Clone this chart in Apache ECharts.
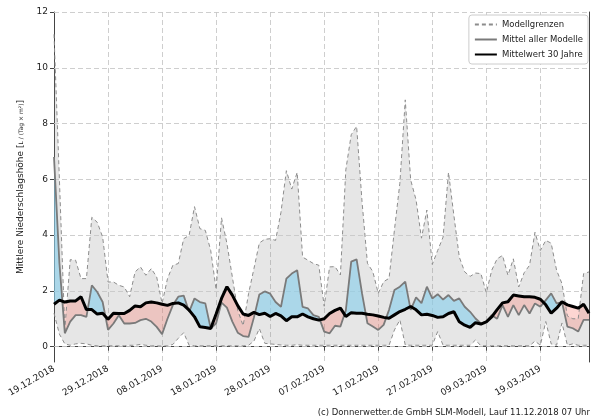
<!DOCTYPE html>
<html><head><meta charset="utf-8">
<script src="https://cdn.jsdelivr.net/npm/echarts@6/dist/echarts.min.js"></script>
<style>html,body{margin:0;padding:0;background:#fff}#c{width:600px;height:420px}</style>
</head><body><div id="c"></div>
<script>
// ---- data ----
const startDate = '19.12.2018';
const dayCount = 100;
const yTicks = [0, 2, 4, 6, 8, 10, 12];
const upperBound = [11.2,6.0,0.6,3.12,3.1,2.44,2.44,4.64,4.46,3.93,2.32,2.32,2.2,2.14,1.79,2.68,2.86,2.56,2.8,2.5,
  1.55,2.44,2.92,2.98,3.87,3.99,5.02,4.23,4.17,3.45,2.05,4.62,3.7,2.5,1.3,0.75,1.9,2.8,3.72,3.85,
  3.87,3.81,4.82,6.31,5.65,6.25,3.21,3.1,2.98,2.92,1.45,2.86,2.87,2.57,6.34,7.6,7.9,5.2,2.99,2.69,
  1.91,2.33,2.45,4.19,5.86,8.85,5.98,5.26,3.89,4.9,2.95,3.45,3.93,6.25,4.7,3.21,2.68,2.52,2.64,2.62,
  1.93,2.74,3.15,3.27,2.56,3.15,2.14,2.65,2.92,4.1,3.45,3.81,3.71,2.74,2.26,1.1,1.0,1.0,2.62,2.68];
const lowerBound = [1.2,0.45,0.1,0.05,0.1,0.12,0.1,0.05,0.03,0.03,0.03,0.03,0.03,0.03,0.05,0.05,0.08,0.05,0.03,0.03,
  0.02,0.03,0.08,0.3,0.5,0.05,0.03,0.03,0.03,0.03,0.03,0.03,0.03,0.03,0.03,0.03,0.05,0.2,0.65,0.12,
  0.1,0.08,0.06,0.05,0.05,0.07,0.05,0.05,0.05,0.05,0.05,0.05,0.05,0.05,0.05,0.05,0.05,0.05,0.05,0.05,
  0.05,0.05,0.05,0.6,0.96,0.06,0.05,0.05,0.05,0.05,0.05,0.54,0.05,0.05,0.05,0.05,0.05,0.05,0.24,0.03,
  0.03,0.03,0.03,0.03,0.03,0.03,0.03,0.03,0.03,0.2,0.05,0.9,0.1,0.05,0.85,0.05,0.1,0.05,0.05,0.05];
const modelMean = [6.8,3.0,0.48,0.9,1.13,1.13,1.07,2.2,1.96,1.6,0.6,0.83,1.13,0.83,0.83,0.85,0.95,1.0,0.9,0.71,
  0.45,1.0,1.49,1.79,1.83,1.25,1.73,1.6,1.55,0.65,0.84,1.58,1.4,0.9,0.5,0.38,0.35,1.05,1.87,1.98,
  1.9,1.6,1.43,2.44,2.62,2.74,1.43,1.37,1.13,1.07,0.54,0.48,0.75,0.72,1.3,3.05,3.13,1.91,0.84,0.72,
  0.6,0.78,1.32,2.03,2.15,2.33,1.32,1.77,1.56,2.15,1.73,1.88,1.69,1.85,1.64,1.73,1.43,1.25,1.01,0.83,
  0.9,1.13,1.0,1.49,1.07,1.49,1.13,1.49,1.19,1.55,1.43,1.67,1.91,1.55,1.6,0.72,0.66,0.54,0.96,0.96];
const mean30 = [1.52,1.67,1.6,1.64,1.64,1.79,1.33,1.33,1.17,1.2,0.98,1.2,1.19,1.19,1.3,1.46,1.43,1.57,1.6,1.57,
  1.52,1.48,1.55,1.57,1.49,1.31,1.07,0.71,0.69,0.65,1.17,1.73,2.15,1.85,1.47,1.17,1.12,1.23,1.15,1.2,
  1.08,1.19,1.1,0.93,1.07,1.07,1.17,1.07,1.0,0.95,1.0,1.19,1.3,1.38,1.08,1.22,1.2,1.2,1.16,1.14,
  1.1,1.05,1.02,1.14,1.26,1.34,1.44,1.32,1.14,1.16,1.12,1.05,1.07,1.19,1.25,0.89,0.77,0.69,0.86,0.81,
  0.89,1.07,1.33,1.57,1.61,1.85,1.82,1.79,1.79,1.77,1.7,1.5,1.2,1.38,1.61,1.5,1.44,1.38,1.52,1.2];

// ---- categories (dates) ----
function makeDates(start, count) {
  const [d, m, y] = start.split('.').map(Number);
  const out = [];
  for (let i = 0; i < count; i++) {
    const dt = new Date(Date.UTC(y, m - 1, d + i));
    const dd = String(dt.getUTCDate()).padStart(2, '0');
    const mm = String(dt.getUTCMonth() + 1).padStart(2, '0');
    out.push(dd + '.' + mm + '.' + dt.getUTCFullYear());
  }
  return out;
}
const dates = makeDates(startDate, dayCount);
const n = dates.length;

const FONT = 'DejaVu Sans';
const BAND = 'rgba(128,128,128,0.2)';
const BLUE = 'rgba(135,206,235,0.62)';
const PINK = 'rgba(250,128,114,0.32)';

function bandRender(params, api) {
  if (params.dataIndex !== 0) return;
  const pts = [];
  for (let i = 0; i < n; i++) pts.push(api.coord([i, upperBound[i]]));
  for (let i = n - 1; i >= 0; i--) pts.push(api.coord([i, lowerBound[i]]));
  return { type: 'polygon', shape: { points: pts }, style: { fill: BAND } };
}

function diffRender(params, api) {
  if (params.dataIndex !== 0) return;
  const P = (i, v) => api.coord([i, v]);
  const polys = [];
  let cur = null;
  for (let i = 0; i < n; i++) {
    const d = modelMean[i] - mean30[i];
    const s = d >= 0 ? 1 : -1;
    if (!cur) { cur = { s, top: [P(i, modelMean[i])], bot: [P(i, mean30[i])] }; continue; }
    if (s !== cur.s) {
      const dp = modelMean[i - 1] - mean30[i - 1];
      const t = dp / (dp - d);
      const v = modelMean[i - 1] + t * (modelMean[i] - modelMean[i - 1]);
      const a = P(i - 1, v), b = P(i, v);
      const c = [a[0] + (b[0] - a[0]) * t, a[1]];
      cur.top.push(c);
      polys.push(cur);
      cur = { s, top: [c, P(i, modelMean[i])], bot: [P(i, mean30[i])] };
    } else {
      cur.top.push(P(i, modelMean[i]));
      cur.bot.push(P(i, mean30[i]));
    }
  }
  polys.push(cur);
  return {
    type: 'group',
    children: polys.map(p => ({
      type: 'polygon',
      shape: { points: p.top.concat(p.bot.slice().reverse()) },
      style: { fill: p.s > 0 ? BLUE : PINK }
    }))
  };
}

const chart = echarts.init(document.getElementById('c'), null, { renderer: 'canvas' });
const gridLineStyle = { color: '#c8c8c8', type: [5, 3], width: 0.9 };

chart.setOption({
  animation: false,
  textStyle: { fontFamily: FONT },
  grid: { left: 54, right: 11, top: 12, bottom: 58, containLabel: false },
  legend: {
    right: 12, top: 15, orient: 'vertical', align: 'left',
    itemWidth: 22, itemHeight: 9, itemGap: 6,
    backgroundColor: '#fff', borderColor: '#cccccc', borderWidth: 1, borderRadius: 3,
    padding: [5, 5, 5, 5],
    itemStyle: { opacity: 0, color: 'transparent', borderColor: 'transparent', borderWidth: 0 },
    textStyle: { fontFamily: FONT, fontSize: 8.5, color: '#222' },
    data: ['Modellgrenzen', 'Mittel aller Modelle', 'Mittelwert 30 Jahre']
  },
  xAxis: [{
    type: 'category', data: dates, boundaryGap: false,
    axisLine: { lineStyle: { color: '#444', width: 1 } },
    axisTick: { interval: 9, length: 4, lineStyle: { color: '#444' } },
    axisLabel: { interval: 9, rotate: 30, fontSize: 9, color: '#222', margin: 6, fontFamily: FONT },
    splitLine: { show: true, interval: 9, lineStyle: gridLineStyle }
  }, {
    type: 'category', data: dates, boundaryGap: false, position: 'top',
    axisLine: { lineStyle: { color: '#444', width: 1 } },
    axisTick: { show: false }, axisLabel: { show: false }, splitLine: { show: false }
  }],
  yAxis: [{
    type: 'value', min: -0.55, max: 12,
    name: 'Mittlere Niederschlagshöhe [{f|L / (Tag × m²)}]',
    nameLocation: 'middle', nameGap: 28, nameRotate: 90,
    nameTextStyle: { fontSize: 9, color: '#222', fontFamily: FONT,
      rich: { f: { fontSize: 6, color: '#222', fontFamily: FONT } } },
    axisLine: { show: true, lineStyle: { color: '#444', width: 1 } },
    axisTick: { show: true, length: 4, customValues: yTicks, lineStyle: { color: '#444' } },
    axisLabel: { fontSize: 9, color: '#222', margin: 6, customValues: yTicks, fontFamily: FONT },
    splitLine: { show: false }
  }, {
    type: 'value', min: -0.55, max: 12, position: 'right',
    axisLine: { show: true, lineStyle: { color: '#444', width: 1 } },
    axisTick: { show: false }, axisLabel: { show: false }, splitLine: { show: false }
  }],
  graphic: [{
    type: 'text', right: 10, bottom: 3,
    style: { text: '(c) Donnerwetter.de GmbH SLM-Modell, Lauf 11.12.2018 07 Uhr', fontSize: 8.5, fill: '#222', fontFamily: FONT }
  }],
  series: [
    {
      type: 'custom', name: 'band', renderItem: bandRender, data: [0], z: 1, silent: true,
      xAxisIndex: 0, yAxisIndex: 0,
      markLine: {
        silent: true, symbol: 'none', label: { show: false },
        lineStyle: gridLineStyle, z: 2,
        data: yTicks.map(v => ({ yAxis: v }))
      }
    },
    { type: 'custom', name: 'diff', renderItem: diffRender, data: [0], z: 3, silent: true },
    {
      type: 'line', name: 'Modellgrenzen', data: upperBound, symbol: 'none', z: 4,
      lineStyle: { color: '#8c8c8c', width: 1, type: [4, 3] }, itemStyle: { color: '#8c8c8c' }
    },
    {
      type: 'line', name: 'Modellgrenzen', data: lowerBound, symbol: 'none', z: 4,
      lineStyle: { color: '#8c8c8c', width: 1, type: [4, 3] }, itemStyle: { color: '#8c8c8c' }
    },
    {
      type: 'line', name: 'Mittel aller Modelle', data: modelMean, symbol: 'none', z: 5,
      lineStyle: { color: '#7a7a7a', width: 1.8 }, itemStyle: { color: '#7a7a7a' }
    },
    {
      type: 'line', name: 'Mittelwert 30 Jahre', data: mean30, symbol: 'none', z: 6,
      lineStyle: { color: '#000', width: 3 }, itemStyle: { color: '#000' }
    }
  ]
});
</script>
</body></html>
